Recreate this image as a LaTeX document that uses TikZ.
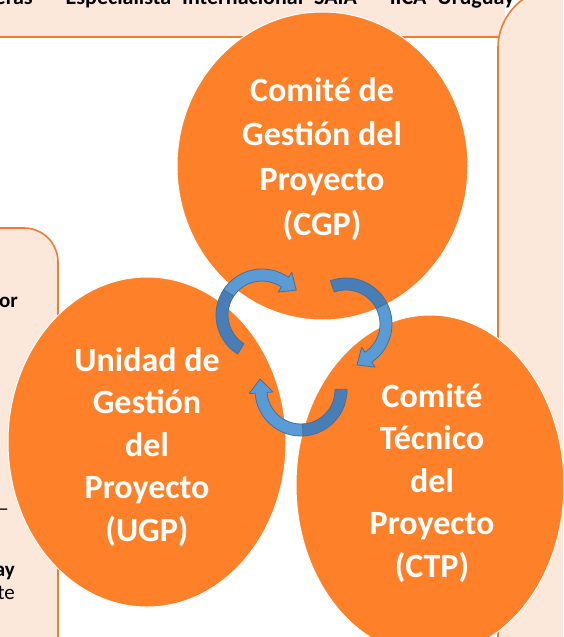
\documentclass[tikz,border=0pt]{standalone}
\usepackage{fontspec}
\setmainfont{Carlito}
\usetikzlibrary{shapes.geometric}
\definecolor{bubbleorange}{RGB}{254,128,40}
\definecolor{edgeorange}{RGB}{237,125,49}
\definecolor{peach}{RGB}{252,231,219}
\definecolor{arrlight}{RGB}{91,155,213}
\definecolor{arrshade}{RGB}{72,125,182}
\definecolor{arrline}{RGB}{65,113,156}
\tikzset{
  bubble/.style={ellipse, fill=bubbleorange, draw=white, line width=1pt, inner sep=0pt},
  bubbletext/.style={text=white, align=center, inner sep=0pt, font=\bfseries\fontsize{34}{44.8}\selectfont},
  bubbletextb/.style={text=white, align=center, inner sep=0pt, font=\bfseries\fontsize{34}{42.5}\selectfont},
  panel/.style={fill=peach, draw=edgeorange, line width=1.6pt},
  headtext/.style={inner sep=0pt, font=\bfseries\fontsize{22}{26}\selectfont},
  sidetext/.style={inner sep=0pt, font=\fontsize{21}{25}\selectfont},
  arrowlight/.style={fill=arrlight, draw=arrline, line width=0.8pt, line join=round},
  arrowdark/.style={fill=arrshade, draw=arrline, line width=0.8pt, line join=round}
}
\newcommand\cyclearrow[3]{%
  \begin{scope}[shift={#1}]
    \pgfmathsetmacro\midang{(#2+#3)/2}
    \pgfmathsetmacro\tipang{#3+19}
    \filldraw[arrowdark] (#2:46) arc[start angle=#2, end angle=\midang, radius=46]
      -- (\midang:34) arc[start angle=\midang, end angle=#2, radius=34] -- cycle;
    \filldraw[arrowlight] (\midang:46) arc[start angle=\midang, end angle=#3, radius=46]
      -- (#3:52) -- (\tipang:42.4) -- (#3:28) -- (#3:34)
      arc[start angle=#3, end angle=\midang, radius=34] -- cycle;
  \end{scope}}
\begin{document}
\begin{tikzpicture}[x=1pt,y=-1pt]
\useasboundingbox (0,0) rectangle (563,637);
\clip (0,0) rectangle (563,637);
% header band
\fill[peach] (-5,-5) rectangle (505,37);
\draw[edgeorange, line width=1.6pt] (-5,37) -- (499,37);
\node[headtext, anchor=base west] (header) at (-5.5,4.5) {\spaceskip=11pt\relax eras – Especialista Internacional SAIA – IICA Uruguay};
% side panels
\draw[panel, rounded corners=60pt] (498,-12) rectangle (660,720);
\draw[panel, rounded corners=34pt] (-80,228) rectangle (58,720);
\node[sidetext, anchor=base east, font=\bfseries\fontsize{21}{25}\selectfont] (t1) at (18,307) {or};
\node[sidetext, anchor=base east] (t2) at (9,515) {–};
\node[sidetext, anchor=base east, font=\bfseries\fontsize{21}{25}\selectfont] (t3) at (15,576) {ay};
\node[sidetext, anchor=base east] (t4) at (15,599) {te};
% bubbles
\node[bubble, minimum width=291pt, minimum height=308pt] (cgp) at (322.5,166) {};
\node[bubble, minimum width=278pt, minimum height=330pt] (ugp) at (147,442) {};
\node[bubble, minimum width=268pt, minimum height=340pt] (ctp) at (430,485) {};
\node[bubbletext] (cgplabel) at (322,159) {Comité de\\Gestión del\\Proyecto\\(CGP)};
\node[bubbletextb] (ugplabel) at (147,447) {Unidad de\\Gestión\\del\\Proyecto\\(UGP)};
\node[bubbletextb] (ctplabel) at (432,483) {Comité\\Técnico\\del\\Proyecto\\(CTP)};
% cycle arrows
\cyclearrow{(262,315)}{122}{305}
\cyclearrow{(346,324)}{250}{416}
\cyclearrow{(301,390)}{-1}{176}
\end{tikzpicture}
\end{document}
